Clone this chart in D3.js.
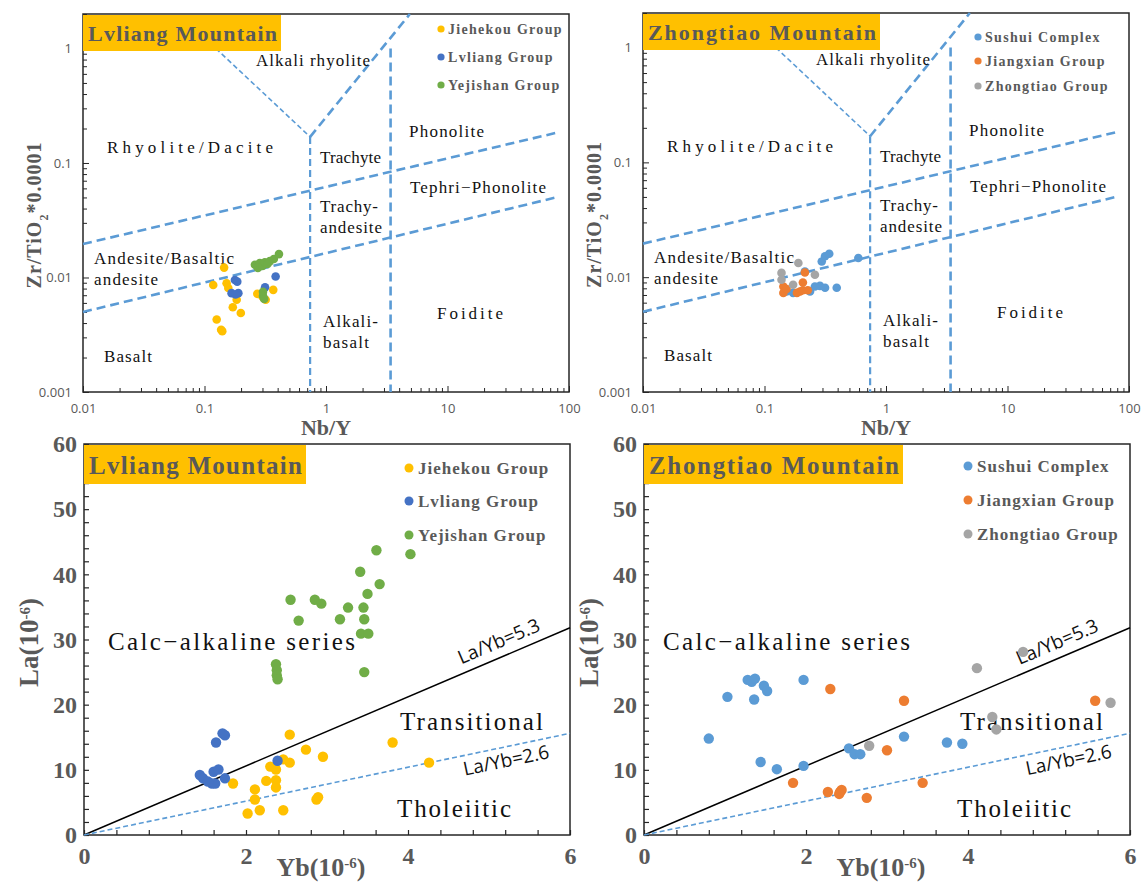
<!DOCTYPE html>
<html><head><meta charset="utf-8">
<script src="https://cdn.jsdelivr.net/npm/d3@7"></script>
<style>body{margin:0;background:#fff}svg{display:block}</style>
</head><body>
<svg id="c" width="1146" height="882"></svg>
<script>
// ---------------- DATA ----------------
// Zr/TiO2*0.0001 vs Nb/Y  — Lvliang Mountain
const jiehekouZr = [[0.145,0.0122],[0.118,0.0086],[0.152,0.0089],[0.157,0.0081],[0.184,0.0064],[0.171,0.0055],[0.199,0.0049],[0.126,0.0043],[0.137,0.0035],[0.140,0.0034],[0.272,0.0072],[0.319,0.0064],[0.368,0.0078],[0.30,0.0068]];
const lvliangZr = [[0.178,0.0095],[0.186,0.0092],[0.167,0.0073],[0.190,0.0073],[0.18,0.0071],[0.315,0.0082],[0.385,0.0102]];
const yejishanZr = [[0.26,0.0129],[0.275,0.0121],[0.285,0.0134],[0.30,0.0126],[0.314,0.0136],[0.33,0.0131],[0.345,0.0139],[0.372,0.0145],[0.41,0.016],[0.303,0.0075],[0.303,0.0069],[0.31,0.0065]];
// Zhongtiao Mountain
const sushuiZr = [[0.296,0.0137],[0.315,0.0152],[0.341,0.016],[0.592,0.0147],[0.215,0.0112],[0.286,0.0084],[0.315,0.0081],[0.393,0.0081],[0.152,0.0075],[0.172,0.0073],[0.237,0.0075],[0.26,0.0083]];
const jiangxianZr = [[0.143,0.0083],[0.143,0.0073],[0.152,0.0079],[0.185,0.0073],[0.196,0.0075],[0.207,0.0077],[0.227,0.0077],[0.207,0.009],[0.215,0.011]];
const zhongtiaoZr = [[0.19,0.0133],[0.138,0.0109],[0.138,0.0095],[0.172,0.0086],[0.26,0.0105]];

// La vs Yb — Lvliang Mountain
const jiehekouLa = [[2.54,15.4],[3.81,14.2],[2.74,13.1],[2.95,12.0],[4.26,11.1],[2.46,11.6],[2.54,11.1],[2.30,10.5],[2.37,10.05],[2.25,8.3],[2.37,8.4],[2.37,7.3],[1.84,7.9],[2.11,7.0],[2.11,5.45],[2.89,5.8],[2.87,5.45],[2.02,3.3],[2.17,3.8],[2.46,3.8]];
const lvliangLa = [[1.74,15.3],[1.71,15.6],[1.63,14.2],[2.39,11.4],[1.43,9.2],[1.47,8.7],[1.58,7.9],[1.62,7.9],[1.60,9.7],[1.66,10.05],[1.74,8.7],[1.53,8.2]];
const yejishanLa = [[4.03,43.1],[3.61,43.7],[3.41,40.4],[3.65,38.5],[3.50,37.0],[2.55,36.1],[2.85,36.1],[2.93,35.5],[3.26,34.9],[3.45,34.9],[2.65,32.9],[3.16,33.1],[3.46,33.1],[3.42,30.9],[3.51,30.9],[3.46,25.0],[2.37,26.2],[2.38,25.3],[2.38,24.5],[2.39,23.9]];
// Zhongtiao Mountain
const sushuiLa = [[0.80,14.8],[1.03,21.2],[1.28,23.8],[1.33,23.5],[1.37,24.0],[1.36,20.8],[1.48,22.9],[1.52,22.1],[1.97,23.8],[1.44,11.2],[1.64,10.1],[1.97,10.6],[2.53,13.3],[2.60,12.4],[2.67,12.4],[3.21,15.1],[3.74,14.2],[3.93,14.0]];
const jiangxianLa = [[2.30,22.4],[3.21,20.6],[5.57,20.6],[3.00,13.0],[1.84,8.0],[3.44,8.0],[2.27,6.6],[2.42,6.6],[2.44,6.9],[2.41,6.3],[2.75,5.7]];
const zhongtiaoLa = [[4.68,28.1],[4.11,25.6],[5.76,20.3],[4.30,18.1],[4.35,16.2],[2.78,13.7]];

// Series names
const lvliangNames = ["Jiehekou Group","Lvliang Group","Yejishan Group"];
const zhongtiaoNames = ["Sushui Complex","Jiangxian Group","Zhongtiao Group"];
const panelTitles = ["Lvliang Mountain","Zhongtiao  Mountain"];

// Field boundaries (Nb/Y, Zr/TiO2)
const fieldUpper = [[0.01,0.0196],[78,0.183]];
const fieldLower = [[0.01,0.005],[78,0.05]];
const vLeftArm = [[0.124,1.0],[0.74,0.169]];
const vRightArm = [[0.74,0.169],[4.9,2]];
const vertTrachyte = [[0.74,0.169],[0.74,0.001]];
const vertPhonolite = [[3.4,1.0],[3.4,0.001]];
// La/Yb reference ratios
const ratioHigh = 5.3, ratioLow = 2.6;

// Axis domains
const logXDomain = [0.01,100], logYDomain = [0.001,2];
const linXDomain = [0,6], linYDomain = [0,60];

// ---------------- DRAW ----------------
const svg = d3.select("#c");
const GRAY = "#595959", BLUE_LINE = "#5B9BD5";
const SERIF = "'Liberation Serif','Times New Roman',serif";
const SANS = "'Open Sans','Liberation Sans',sans-serif";
const colorsL = ["#FFC000","#4472C4","#70AD47"];
const colorsZ = ["#5B9BD5","#ED7D31","#A5A5A5"];

function logTicks(lo, hi){
  const t=[];
  for(let d=Math.floor(Math.log10(lo)); d<=Math.ceil(Math.log10(hi)); d++){
    for(let k=1;k<=9;k++){const v=+(k*Math.pow(10,d)).toPrecision(6); if(v>=lo-1e-12 && v<=hi+1e-12) t.push(v);}
  }
  return t;
}
const isDecade = v => Math.abs(Math.log10(v)-Math.round(Math.log10(v)))<1e-9;

function topPanel(fx0, fy0, fx1, fy1, series, names, colors, title, legY, legX, titleW){
  const g = svg.append("g");
  const x = d3.scaleLog().domain(logXDomain).range([fx0,fx1]);
  const y = d3.scaleLog().domain(logYDomain).range([fy1,fy0]);
  const xa = g.append("g").attr("transform",`translate(0,${fy1})`)
    .call(d3.axisBottom(x).tickValues(logTicks(0.01,100)).tickSizeInner(-4).tickSizeOuter(0).tickPadding(12)
      .tickFormat(d=>isDecade(d)?String(d):""));
  xa.selectAll(".tick line").attr("y2",d=>isDecade(d)?-6:-4);
  const ya = g.append("g").attr("transform",`translate(${fx0},0)`)
    .call(d3.axisLeft(y).tickValues(logTicks(0.001,2)).tickSizeInner(-4).tickSizeOuter(0).tickPadding(11)
      .tickFormat(d=>isDecade(d)?String(d):""));
  ya.selectAll(".tick line").attr("x2",d=>isDecade(d)?6:4);
  [xa,ya].forEach(a=>{
    a.select(".domain").remove();
    a.selectAll(".tick line").attr("stroke","#262626").attr("stroke-width",1);
    a.selectAll("text").attr("font-family",SANS).attr("font-size",13).attr("fill",GRAY);
  });
  g.append("rect").attr("x",fx0).attr("y",fy0).attr("width",fx1-fx0).attr("height",fy1-fy0)
    .attr("fill","none").attr("stroke","#262626").attr("stroke-width",1.5);
  const line = d3.line().x(d=>x(d[0])).y(d=>y(d[1]));
  const thick = {w:2.6, dash:"9,5"}, thin = {w:1.6, dash:"5,3"}, med = {w:2.2, dash:"7,4"};
  [[fieldUpper,thick],[fieldLower,thick],[vLeftArm,thin],[vRightArm,thick],[vertTrachyte,med],[vertPhonolite,thick]]
    .forEach(([pts,s])=>g.append("path").attr("d",line(pts)).attr("fill","none")
      .attr("stroke",BLUE_LINE).attr("stroke-width",s.w).attr("stroke-dasharray",s.dash));
  const labels = [
    ["Alkali  rhyolite",173,52,114],["Rhyolite/Dacite",24,139,166],["Trachyte",237,149,61],
    ["Phonolite",326,123,75],["Tephri\u2212Phonolite",327,179,136],["Trachy-",237,198,58],
    ["andesite",237,219,62],["Andesite/Basaltic",11,250,140],["andesite",11,271,64],
    ["Alkali-",240,313,55],["basalt",240,334,46],["Foidite",354,305,66],["Basalt",21,348,48]
  ];
  labels.forEach(([t,dx,dy,len])=>g.append("text").attr("x",fx0+dx).attr("y",fy0+dy).text(t)
    .attr("font-family",SERIF).attr("font-size",17).attr("fill","#111")
    .attr("textLength",len).attr("lengthAdjust","spacing"));
  series.forEach((s,i)=>g.append("g").selectAll("circle").data(s).join("circle")
    .attr("cx",d=>x(d[0])).attr("cy",d=>y(d[1])).attr("r",4.3).attr("fill",colors[i]));
  g.append("rect").attr("x",fx0).attr("y",fy0+1).attr("width",titleW).attr("height",36).attr("fill","#FFC000");
  g.append("text").attr("x",fx0+5).attr("y",fy0+27).text(title).attr("font-family",SERIF).attr("font-weight","bold")
    .attr("font-size",22).attr("fill",GRAY).attr("textLength",titleW-9).attr("lengthAdjust","spacing");
  names.forEach((n,i)=>{
    g.append("circle").attr("cx",legX).attr("cy",legY[i]).attr("r",3.6).attr("fill",colors[i]);
    g.append("text").attr("x",legX+7).attr("y",legY[i]+5).text(n).attr("font-family",SERIF).attr("font-weight","bold")
      .attr("font-size",14).attr("fill",GRAY).attr("letter-spacing",1.3);
  });
  g.append("text").attr("x",(fx0+fx1)/2).attr("y",fy1+43).attr("text-anchor","middle").text("Nb/Y")
    .attr("font-family",SERIF).attr("font-weight","bold").attr("font-size",22).attr("fill",GRAY);
  const yt = g.append("text").attr("transform",`translate(${fx0-42},${(fy0+fy1)/2+12}) rotate(-90)`).attr("text-anchor","middle")
    .attr("font-family",SERIF).attr("font-weight","bold").attr("font-size",20).attr("fill",GRAY).attr("letter-spacing",1);
  yt.append("tspan").text("Zr/TiO");
  yt.append("tspan").text("2").attr("font-size",12).attr("baseline-shift","sub");
  yt.append("tspan").text("*0.0001");
}

function botPanel(fx0, fy0, fx1, fy1, series, names, colors, title, legY, legX, titleW, lab){
  const g = svg.append("g");
  const x = d3.scaleLinear().domain(linXDomain).range([fx0,fx1]);
  const y = d3.scaleLinear().domain(linYDomain).range([fy1,fy0]);
  const xa = g.append("g").attr("transform",`translate(0,${fy1})`)
    .call(d3.axisBottom(x).tickValues(d3.range(0,6.0001,0.4)).tickSizeInner(-5).tickSizeOuter(0).tickPadding(12)
      .tickFormat(d=>{const r=Math.round(d);return (Math.abs(d-r)<1e-6 && r%2===0)?String(r):"";}));
  const ya = g.append("g").attr("transform",`translate(${fx0},0)`)
    .call(d3.axisLeft(y).tickValues(d3.range(0,60.001,2)).tickSizeInner(-5).tickSizeOuter(0).tickPadding(7)
      .tickFormat(d=>d%10===0?String(d):""));
  [xa,ya].forEach(a=>{
    a.select(".domain").remove();
    a.selectAll(".tick line").attr("stroke","#262626").attr("stroke-width",1.2);
    a.selectAll("text").attr("font-family",SERIF).attr("font-weight","bold").attr("font-size",24).attr("fill",GRAY);
  });
  g.append("rect").attr("x",fx0).attr("y",fy0).attr("width",fx1-fx0).attr("height",fy1-fy0)
    .attr("fill","none").attr("stroke","#262626").attr("stroke-width",1.5);
  g.append("line").attr("x1",x(0)).attr("y1",y(0)).attr("x2",x(6)).attr("y2",y(6*ratioHigh))
    .attr("stroke","#000").attr("stroke-width",1.5);
  g.append("line").attr("x1",x(0)).attr("y1",y(0)).attr("x2",x(6)).attr("y2",y(6*ratioLow))
    .attr("stroke",BLUE_LINE).attr("stroke-width",1.6).attr("stroke-dasharray","5,3");
  function ratioLabel(text, ratio, xv, off){
    const p0=[x(0),y(0)], p1=[x(6),y(6*ratio)];
    const ang = Math.atan2(p1[1]-p0[1], p1[0]-p0[0]);
    const px = x(xv), py = y(xv*ratio);
    const nx = Math.sin(ang), ny = -Math.cos(ang);
    g.append("text").attr("transform",`translate(${px+nx*off},${py+ny*off}) rotate(${ang*180/Math.PI})`)
      .text(text).attr("font-family",SANS).attr("font-size",19).attr("fill","#111");
  }
  ratioLabel("La/Yb=5.3", ratioHigh, lab.hx, 9);
  ratioLabel("La/Yb=2.6", ratioLow, lab.lx, -20);
  const t = (s,xx,yy,len)=>g.append("text").attr("x",xx).attr("y",yy).text(s).attr("font-family",SERIF)
    .attr("font-size",25).attr("fill","#111").attr("textLength",len).attr("lengthAdjust","spacing");
  t("Calc\u2212alkaline series", fx0+lab.cx, 650, 247);
  t("Transitional", fx0+lab.tx, 730, 143);
  t("Tholeiitic", fx0+lab.tx-3, 817, 114);
  series.forEach((s,i)=>g.append("g").selectAll("circle").data(s).join("circle")
    .attr("cx",d=>x(d[0])).attr("cy",d=>y(d[1])).attr("r",5.2).attr("fill",colors[i]));
  g.append("rect").attr("x",fx0).attr("y",fy0+1).attr("width",titleW).attr("height",39).attr("fill","#FFC000");
  g.append("text").attr("x",fx0+5).attr("y",fy0+30).text(title).attr("font-family",SERIF).attr("font-weight","bold")
    .attr("font-size",25).attr("fill",GRAY).attr("textLength",titleW-9).attr("lengthAdjust","spacing");
  names.forEach((n,i)=>{
    g.append("circle").attr("cx",legX).attr("cy",legY[i]).attr("r",4.5).attr("fill",colors[i]);
    g.append("text").attr("x",legX+9).attr("y",legY[i]+6).text(n).attr("font-family",SERIF).attr("font-weight","bold")
      .attr("font-size",17).attr("fill",GRAY).attr("letter-spacing",1);
  });
  const xt = g.append("text").attr("x",(fx0+fx1)/2-6).attr("y",fy1+41).attr("text-anchor","middle")
    .attr("font-family",SERIF).attr("font-weight","bold").attr("font-size",26).attr("fill",GRAY);
  xt.append("tspan").text("Yb(10");
  xt.append("tspan").text("-6").attr("font-size",15).attr("baseline-shift","super");
  xt.append("tspan").text(")");
  const yt = g.append("text").attr("transform",`translate(${fx0-46},${(fy0+fy1)/2+3}) rotate(-90)`).attr("text-anchor","middle")
    .attr("font-family",SERIF).attr("font-weight","bold").attr("font-size",27).attr("fill",GRAY);
  yt.append("tspan").text("La(10");
  yt.append("tspan").text("-6").attr("font-size",15).attr("baseline-shift","super");
  yt.append("tspan").text(")");
}

topPanel(83,14,569,392,[jiehekouZr,lvliangZr,yejishanZr],lvliangNames,colorsL,panelTitles[0],[29,57,85],441,198);
topPanel(643,13,1129,392,[sushuiZr,jiangxianZr,zhongtiaoZr],zhongtiaoNames,colorsZ,panelTitles[1],[37,61,86],978,237);
botPanel(84,444,570,835,[jiehekouLa,lvliangLa,yejishanLa],lvliangNames,colorsL,panelTitles[0],[468,501,535],409,222,{hx:4.7,lx:4.65,cx:24,tx:316});
botPanel(644,444,1130,835,[sushuiLa,jiangxianLa,zhongtiaoLa],zhongtiaoNames,colorsZ,panelTitles[1],[466,500,534],968,259,{hx:4.68,lx:4.68,cx:19,tx:316});
</script>
</body></html>
